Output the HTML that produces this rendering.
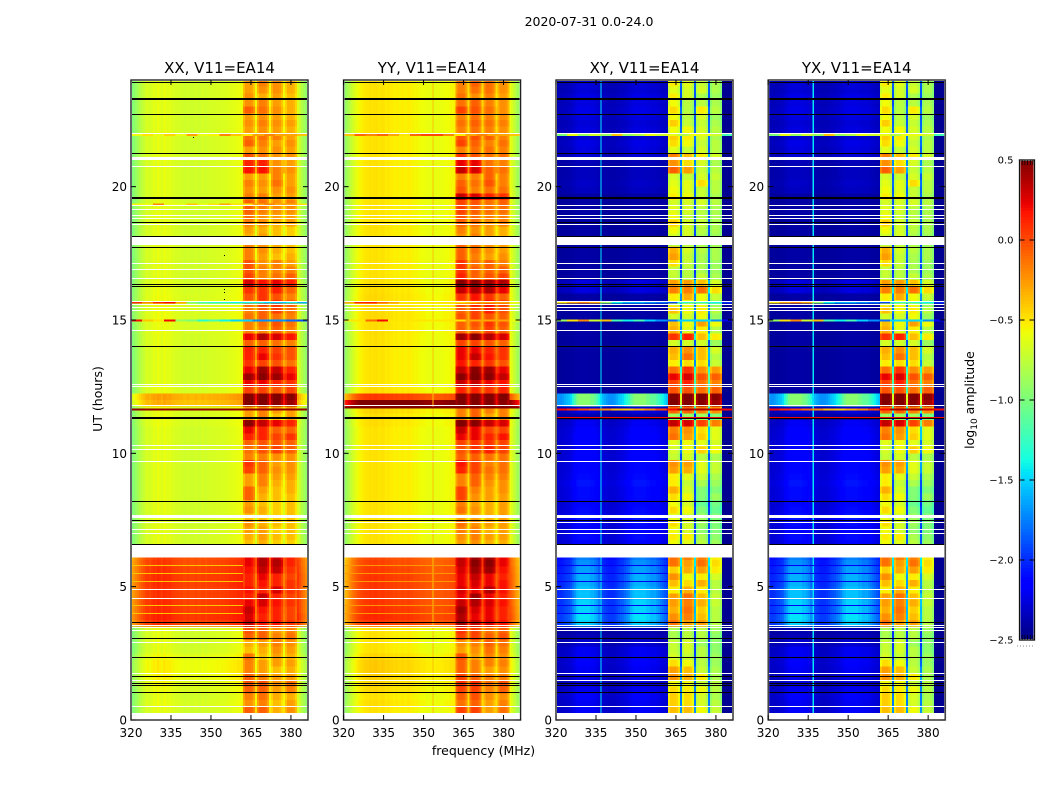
<!DOCTYPE html>
<html lang="en">
<head>
<meta charset="utf-8">
<title>2020-07-31 0.0-24.0</title>
<style>
html,body{margin:0;padding:0;background:#fff;}
svg{display:block;font-family:"DejaVu Sans","Liberation Sans",sans-serif;fill:#000;}
</style>
</head>
<body>
<svg id="chart" width="1050" height="800" viewBox="0 0 1050 800" xmlns="http://www.w3.org/2000/svg">
  <rect x="0" y="0" width="1050" height="800" fill="#fff"/>
  <text x="589" y="26" font-size="12.5" text-anchor="middle">2020-07-31 0.0-24.0</text>
  <text transform="translate(102 399) rotate(-90)" font-size="12.5" text-anchor="middle">UT (hours)</text>
  <text x="483.500" y="755" font-size="12.5" text-anchor="middle">frequency (MHz)</text>
  <text transform="translate(974 400) rotate(-90)" font-size="12.5" text-anchor="middle">log<tspan font-size="9" dy="3">10</tspan><tspan dy="-3"> amplitude</tspan></text>
  <g id="panels"></g>
  <g id="colorbar"></g>
</svg>
<script>
// ---- axis data ----
const freqTicks = [320, 335, 350, 365, 380];
const hourTicks = [0, 5, 10, 15, 20];
const colorTicks = [-2.5, -2.0, -1.5, -1.0, -0.5, 0.0, 0.5];
const panelTitles = ['XX, V11=EA14', 'YY, V11=EA14', 'XY, V11=EA14', 'YX, V11=EA14'];

// log10 amplitude baseline per channel (0.75 MHz channels from 320 MHz)
const profileXX = [-1,-.95,-.9,-.85,-.8,-.76,-.72,-.68,-.66,-.68,-.65,-.62,-.64,-.6,-.62,-.65,-.6,-.62,-.63,-.62,-.65,-.66,-.67,-.67,-.68,-.68,-.7,-.7,-.68,-.7,-.7,-.7,-.68,-.7,-.7,-.68,-.68,-.7,-.68,-.67,-.68,-.67,-.67,-.66,-.67,-.66,-.66,-.65,-.65,-.63,-.63,-.62,-.62,-.6,-.6,-.58,-.6,-.6,-.6,-.6,-.6,-.6,-.6,-.6,-.6,-.6,-.6,-.6,-.6,-.6,-.6,-.6,-.6,-.6,-.6,-.6,-.6,-.6,-.6,-.6,-.6,-.6,-.6,-.65,-.72,-.8,-.85,-.92,-.98];
const profileYY = [-.94,-.88,-.82,-.76,-.7,-.65,-.61,-.57,-.55,-.53,-.51,-.5,-.5,-.48,-.5,-.48,-.48,-.5,-.5,-.48,-.5,-.52,-.5,-.52,-.52,-.54,-.52,-.54,-.54,-.52,-.54,-.54,-.52,-.54,-.54,-.56,-.56,-.56,-.58,-.58,-.58,-.6,-.6,-.6,-.62,-.62,-.6,-.6,-.6,-.6,-.58,-.58,-.58,-.56,-.56,-.54,-.5,-.5,-.5,-.5,-.5,-.5,-.5,-.5,-.5,-.5,-.5,-.5,-.5,-.5,-.5,-.5,-.5,-.5,-.5,-.5,-.5,-.5,-.5,-.5,-.5,-.5,-.5,-.6,-.67,-.74,-.82,-.88,-.96];
// shape of the cross-hand low-band lobes, per channel
const lobeXY = [.5,.5,.5,.52,.55,.58,.6,.65,.75,.85,.95,1,1,1,1,1,1,.95,.95,.9,.85,.75,.65,.58,.55,.52,.5,.5,.5,.52,.55,.6,.62,.65,.7,.75,.8,.9,.95,1,1,1,1,1,1,.95,.95,.9,.9,.9,.85,.8,.75,.7,.65,.6,.6,.6,.6,.6,.6,.6,.6,.6,.6,.6,.6,.6,.6,.6,.6,.6,.6,.6,.6,.6,.6,.6,.6,.6,.6,.6,.6,0,0,0,0,0,0];
// channel to occupied block (-1 = open band, 4 = gap between blocks)
const channelBlock = [-1,-1,-1,-1,-1,-1,-1,-1,-1,-1,-1,-1,-1,-1,-1,-1,-1,-1,-1,-1,-1,-1,-1,-1,-1,-1,-1,-1,-1,-1,-1,-1,-1,-1,-1,-1,-1,-1,-1,-1,-1,-1,-1,-1,-1,-1,-1,-1,-1,-1,-1,-1,-1,-1,-1,-1,0,0,0,0,0,0,4,1,1,1,1,1,1,4,2,2,2,2,2,2,4,3,3,3,3,3,3,-1,-1,-1,-1,-1,-1];
const blockTaper = [-.08,.03,.03,.03,0,-.1,0,-.08,.03,.03,.03,0,-.1,0,-.08,.03,.03,.03,0,-.1,0,-.08,.03,.03,.03,0,-.1];

// low-band level per 0.25 h row
const lowXX = [0,0,.02,0,.03,.05,.08,.1,.1,.05,0,0,0,0,.7,.75,.72,.72,.7,.7,.72,.72,.7,.68,.66,0,0,0,0,0,0,0,0,0,0,0,0,0,0,0,0,0,0,0,.02,.02,.02,.3,.35,.02,0,0,0,0,0,0,.01,.01,.02,.02,.03,.03,.03,.03,.02,.01,0,0,0,0,0,0,0,0,0,0,0,0,0,0,0,0,0,0,0,0,0,0,0,0,0,0,0,0,0,0];
const lowYY = [0,0,.02,0,.03,.04,.06,.08,.08,.04,0,0,0,0,.55,.6,.58,.56,.55,.55,.56,.56,.54,.52,.5,0,0,0,0,0,0,0,0,0,0,0,0,0,0,0,0,0,0,0,.02,.02,.05,1.05,.55,.02,0,0,0,0,0,0,.01,.01,.02,.02,.03,.03,.03,.03,.02,.01,0,0,0,0,0,0,0,0,0,0,0,0,0,0,0,0,0,0,0,0,0,0,0,0,0,0,0,0,0,0];
const lowXY = [.28,.28,.26,.28,.24,.2,.22,.26,.28,.26,.25,.16,.1,.08,.95,1,.95,.95,.9,.9,.85,.85,.8,.75,.7,.33,.33,.35,.33,.35,.38,.35,.33,.35,.35,.38,.35,.33,.33,.32,.3,.32,.32,.3,.26,.08,.2,1.5,1.5,.05,.05,.05,.05,.05,.05,.05,.05,.05,.05,.05,.05,.05,.05,.05,.2,.2,.05,.05,.05,.05,.05,.05,.05,.05,.05,.05,.05,.05,.05,.12,.14,.12,.12,.1,.18,.2,.22,.18,.2,.18,.2,.22,.2,.22,.18,.18];

// level of each occupied block [b1,b2,b3,b4] per 0.25 h row
const blocksXX = [
[-.3,-.3,-.4,-.3],[-.1,-.1,-.35,-.25],[-.25,-.2,-.4,-.3],[-.2,-.15,-.35,-.35],[-.1,-.1,-.3,-.2],[-.05,-.05,-.25,-.15],[-.1,-.2,-.3,-.3],[-.2,-.3,-.4,-.35],
[-.2,-.3,-.3,-.3],[-.15,-.4,-.3,-.35],[-.4,-.35,-.25,-.3],[-.35,-.3,-.2,-.25],[-.1,-.1,-.2,-.15],[-.05,-.1,-.25,-.2],[.3,.15,.15,.05],[.25,.1,.1,0],
[.3,.15,.1,0],[.2,.25,.15,.05],[.1,.3,.1,0],[.15,.1,.25,.05],[.1,.15,.1,.05],[.1,.2,.1,0],[.15,.3,.3,.05],[.2,.35,.35,.1],
[.2,.35,.3,.1],[-.4,-.35,-.45,-.45],[-.4,-.35,-.45,-.45],[-.35,-.3,-.4,-.4],[-.3,-.3,-.45,-.4],[-.25,-.35,-.4,-.4],[-.4,-.4,-.45,-.4],[-.25,-.35,-.45,-.4],
[-.3,-.4,-.45,-.4],[-.1,-.35,-.4,-.4],[-.1,-.3,-.4,-.35],[-.3,-.2,-.35,-.35],[-.3,-.2,-.3,-.3],[0,-.1,-.25,-.25],[.05,-.1,-.3,-.25],[-.2,-.2,-.25,-.25],
[-.15,-.05,0,-.1],[-.1,-.05,-.05,-.1],[.1,.1,0,.05],[.2,.1,-.1,-.1],[.45,.3,.2,.1],[-.3,-.2,-.4,-.3],[-.3,-.2,-.3,-.3],[.5,.5,.45,.4],
[.5,.5,.5,.45],[0,0,-.05,0],[.2,.2,.1,.05],[.4,.45,.4,.2],[.2,.4,.3,.1],[.05,0,-.05,-.15],[.1,.2,.05,-.05],[.1,.1,0,-.05],
[-.1,-.1,-.15,-.2],[.2,.35,.25,.15],[-.2,-.2,-.1,-.2],[-.2,-.15,-.05,-.15],[-.15,-.1,-.15,-.2],[-.2,-.1,0,-.15],[-.15,0,.05,-.1],[-.05,.05,-.05,-.2],
[.05,.05,.1,-.1],[.25,.15,.2,.1],[0,-.2,-.15,-.1],[-.05,-.2,-.2,-.2],[-.05,-.25,-.2,-.3],[-.2,-.3,-.4,-.35],[-.2,-.25,-.35,-.4],[-.2,-.25,-.35,-.4],
[-.35,-.3,-.4,-.45],[-.3,-.35,-.4,-.45],[-.2,-.25,-.35,-.3],[-.15,-.25,-.3,-.3],[-.1,-.2,-.25,-.25],[-.1,-.15,-.25,-.2],[-.2,-.2,-.3,-.3],[-.25,-.3,-.25,-.25],
[-.2,-.25,-.15,-.3],[-.3,-.3,-.2,-.3],[.15,.15,-.2,-.25],[.1,.1,-.25,-.3],[-.05,-.15,-.25,-.25],[-.3,-.25,-.25,-.3],[-.1,-.2,-.3,-.25],[-.15,-.15,-.2,-.3],
[-.3,-.25,-.3,-.35],[-.25,-.2,-.25,-.3],[-.3,-.25,-.3,-.35],[-.1,-.15,-.25,-.35],[-.25,-.2,-.3,-.35],[-.25,-.35,-.3,-.4],[-.3,-.25,-.25,-.35],[-.3,-.2,-.25,-.35]];
const blocksYY = [
[-.2,-.2,-.3,-.25],[0,0,-.3,-.15],[-.15,-.1,-.3,-.2],[-.1,-.05,-.25,-.25],[0,0,-.2,-.1],[.05,.05,-.15,-.05],[0,-.1,-.2,-.2],[-.1,-.2,-.3,-.25],
[-.1,-.2,-.2,-.2],[-.05,-.3,-.2,-.25],[-.3,-.25,-.15,-.2],[-.25,-.2,-.1,-.15],[0,0,-.1,-.05],[.05,0,-.15,-.1],[.4,.3,.25,.15],[.35,.2,.2,.1],
[.4,.25,.2,.1],[.3,.35,.25,.15],[.2,.4,.2,.1],[.25,.2,.35,.15],[.2,.25,.2,.15],[.2,.3,.2,.1],[.25,.4,.4,.15],[.3,.45,.45,.2],
[.3,.4,.4,.2],[-.3,-.25,-.35,-.35],[-.3,-.25,-.35,-.35],[-.25,-.2,-.3,-.3],[-.2,-.2,-.35,-.3],[-.15,-.25,-.3,-.3],[-.3,-.3,-.35,-.3],[-.15,-.25,-.35,-.3],
[-.2,-.3,-.35,-.3],[0,-.25,-.3,-.3],[0,-.2,-.3,-.25],[-.2,-.1,-.25,-.25],[-.2,-.1,-.2,-.2],[.1,0,-.15,-.15],[.15,0,-.2,-.15],[-.1,-.1,-.15,-.15],
[-.05,.05,.1,0],[0,.05,.05,0],[.2,.2,.1,.15],[.3,.2,0,0],[.5,.45,.3,.25],[-.2,-.1,-.3,-.2],[-.2,-.1,-.2,-.2],[.5,.5,.5,.45],
[.5,.5,.5,.5],[.1,.1,.05,.1],[.3,.3,.2,.15],[.45,.5,.45,.3],[.3,.45,.4,.2],[.15,.1,.05,-.05],[.2,.3,.15,.05],[.2,.2,.1,.05],
[0,0,-.05,-.1],[.4,.45,.35,.25],[-.1,-.1,0,-.1],[-.1,-.05,.05,-.05],[-.05,0,-.05,-.1],[-.1,0,.1,-.05],[-.05,.1,.15,0],[.05,.15,.05,-.1],
[.3,.35,.35,.2],[.45,.45,.4,.35],[.1,-.1,-.05,0],[.05,-.1,-.1,-.1],[.05,-.15,-.1,-.2],[-.1,-.2,-.3,-.25],[-.1,-.15,-.25,-.3],[-.1,-.15,-.25,-.3],
[-.25,-.2,-.3,-.35],[-.2,-.25,-.3,-.35],[-.1,-.15,-.25,-.2],[-.05,-.15,-.2,-.2],[0,-.1,-.15,-.15],[0,-.05,-.15,-.1],[.3,.25,.1,.05],[-.05,-.2,-.15,-.15],
[-.1,-.15,-.05,-.2],[-.2,-.2,-.1,-.2],[.3,.25,-.1,-.15],[.2,.2,-.15,-.2],[.05,-.05,-.15,-.15],[-.2,-.15,-.15,-.2],[0,-.1,-.2,-.15],[-.05,-.05,-.1,-.2],
[-.2,-.15,-.2,-.25],[-.15,-.1,-.15,-.2],[-.2,-.15,-.2,-.25],[0,-.05,-.15,-.25],[-.15,-.1,-.2,-.25],[-.15,-.25,-.2,-.3],[-.2,-.15,-.15,-.25],[-.2,-.1,-.15,-.25]];
const blocksXY = [
[-.6,-.65,-.7,-.8],[-.4,-.4,-.6,-.75],[-.45,-.5,-.7,-.8],[-.45,-.5,-.7,-.85],[-.5,-.55,-.6,-.8],[-.6,-.6,-.75,-.8],[-.25,-.35,-.55,-.85],[-.3,-.4,-.75,-.85],
[-.5,-.6,-.8,-.9],[-.7,-.75,-.8,-.9],[-.75,-.7,-.8,-.95],[-.75,-.7,-.9,-.95],[-.85,-.8,-.8,-.95],[-.85,-.8,-.8,-.9],[-.15,-.3,-.3,-.8],[-.25,-.2,-.4,-.8],
[-.35,-.15,-.45,-.8],[-.3,-.2,-.35,-.75],[-.3,-.15,-.4,-.75],[-.55,-.35,-.55,-.8],[-.4,-.5,-.35,-.8],[-.25,-.6,-.55,-.7],[-.45,-.35,-.3,-.55],[-.15,-.3,-.15,-.5],
[-.15,-.2,-.2,-.55],[-.7,-.7,-.8,-.85],[-.6,-.65,-.8,-.9],[-.55,-.55,-.85,-.95],[-.6,-.7,-.95,-1],[-.5,-.7,-.9,-1],[-.65,-.7,-.9,-1],[-.5,-.6,-1,-1.1],
[-.6,-.7,-1.1,-1.05],[-.5,-.6,-1,-.9],[-.35,-.7,-1,-1],[-.55,-.75,-.85,-.9],[-.55,-.65,-.75,-.85],[-.3,-.35,-.65,-.75],[-.25,-.3,-.65,-.75],[-.75,-.7,-.8,-.85],
[-.7,-.6,-.45,-.6],[-.65,-.6,-.65,-.7],[-.15,-.3,-.45,-.65],[-.2,-.25,-.5,-.65],[.3,.25,0,-.2],[-.9,-.9,-.9,-1],[-.1,-.1,-.2,-.25],[.5,.5,.45,.4],
[.5,.5,.5,.45],[-.05,-.05,-.15,-.1],[0,.1,-.15,-.2],[.2,.25,-.05,-.1],[-.15,.05,-.25,-.3],[-.55,-.5,-.5,-.75],[-.4,-.15,-.4,-.8],[-.35,-.25,-.4,-.7],
[-.7,-.7,-.7,-.9],[.05,.1,-.4,-.55],[-.35,-.65,-.55,-.8],[-.4,-.6,-.3,-.6],[-.7,-.7,-.6,-.9],[-.4,-.6,-.55,-.8],[-.6,-.6,-.6,-.9],[-.55,-.35,-.6,-.75],
[-.2,-.2,-.15,-.5],[-.3,-.3,-.4,-.7],[-.75,-.8,-.75,-.85],[-.75,-.8,-.85,-.9],[-.5,-.75,-.85,-.9],[-.3,-.75,-.85,-.85],[-.35,-.7,-.8,-.85],[-.8,-.8,-.85,-.9],
[-.7,-.7,-.85,-.9],[-.6,-.7,-.8,-.85],[-.45,-.7,-.75,-.85],[-.6,-.75,-.8,-.85],[-.65,-.7,-.8,-.85],[-.7,-.7,-.7,-.8],[-.55,-.6,-.75,-.85],[-.6,-.65,-.75,-.8],
[-.65,-.65,-.5,-.8],[-.7,-.75,-.7,-.75],[-.1,-.3,-.75,-.8],[-.25,-.5,-.7,-.85],[-.2,-.4,-.55,-.7],[-.65,-.75,-.7,-.8],[-.5,-.6,-.75,-.8],[-.45,-.55,-.7,-.85],
[-.6,-.6,-.7,-.8],[-.45,-.75,-.75,-.85],[-.6,-.8,-.7,-.9],[-.5,-.8,-.55,-.8],[-.6,-.8,-.8,-.85],[-.55,-.7,-.85,-.9],[-.65,-.7,-.7,-.85],[-.55,-.65,-.75,-.85]];

// flagged times (hours)
const blackHours = [23.9,23.29,22.71,21.25,19.59,18.66,18.14,17.73,16.34,16.26,14.01,11.31,8.2,7.49,6.6,3.66,3.06,2.35,1.62,1.38,1.3,1.04];
const thickBlackHours = [23.29,19.59,11.31];
const whiteHours = [22,21.05,20.74,19.28,19.16,18.91,18.81,18.6,17.13,16.9,16.56,15.7,15.57,15.48,15.36,14.61,12.59,12.51,11.8,10.28,10.15,9.68,7.62,7.4,7.15,7,4.89,4.56,3.55,3.46,3.36,2.92,1.73,1.5,.49];
const thickWhiteHours = [21.05,7.62];
const blankStartHours = [0, 6.1, 17.81];
const blankEndHours = [.27, 6.6, 18.13];
const dipHours = [5.8,5.5,5.2,4.3,4];
const dipLevels = [-.4,-.25,-2.2,-2.2];
const spurFreqs = [null, 353.3, 336.7, 336.7];
const spurLevels = [null, -.38, -1.45, -1.45];

// narrow-band/time spikes: 16 frequency segments per spike hour
const spikeHours = [21.93,19.33,15.66,14.99,11.72,11.64];
const spikesXX = [
[-.6,-.5,-.6,-.45,-.6,-.3,-.6,-.55,-.2,-.4,-.5,-.3,-.2,-.3,-.3,-.4],
[-.55,-.6,-.2,-.6,-.6,-.4,-.6,-.5,-.3,-.5,-.5,-.3,-.2,-.3,-.3,-.5],
[.1,-.2,.1,.2,-.3,-1,-1.2,-1.3,-1.3,-1.4,-1.4,-1.4,-1.5,-1.5,-1.4,-1.6],
[.2,-.4,-.5,.2,-.9,-1,-1.3,-1.2,-1.4,-1.5,-1.5,-1.7,-1.7,-1.7,-1.8,-1.9],
null,
[.45,.45,.45,.45,.45,.45,.45,.45,.45,.45,.45,.45,.45,.45,.45,.45]];
const spikesYY = [
[-.4,-.1,-.2,-.1,-.3,-.5,-.1,0,0,-.2,-.5,-.3,-.2,-.3,-.3,-.4],
null,
[-.3,.1,.15,-.1,-.3,-.5,-.5,-.5,-.5,-.5,-.5,-.4,-.3,-.3,-.3,-.6],
[-.5,-.5,-.1,.2,-.5,-.5,-.5,-.5,-.5,-.5,-.5,-.3,-.3,-.3,-.3,-.6],
[.5,.5,.5,.5,.5,.5,.5,.5,.5,.5,.5,.5,.5,.5,.5,.5],
null];
const spikesXY = [
[-1,-.6,-.9,-.7,-.9,-.4,-.9,-.8,-.6,-.7,-.6,-.8,-.6,-.6,-.7,-1.2],
null,
[-.5,-.3,-.2,-.3,-.9,-1.4,-1.6,-1.6,-1.7,-1.8,-1.9,-1.3,-1.2,-1.3,-1.4,-2],
[-.9,-.5,-.2,-.7,-.4,-1.2,-1.4,-1.2,-1.5,-1.7,-1.8,-1.5,-1.5,-1.5,-1.7,-2.2],
null,
[.2,.1,0,-.1,-.2,-.35,-.4,-.3,-.2,0,.2,.4,.4,.4,.3,.2]];
const crossLineHour = [11.31];
const crossLineLevel = [.2];
const speckFreqs = [354.9,354.9,354.9,354.9,343.3];
const speckHours = [17.44,16.16,16.05,15.79,21.86];

// ---- scales ----
const NS = 'http://www.w3.org/2000/svg';
const plotTop = 80, plotBottom = 720, plotWidth = 177;
const panelLefts = [131, 343.6, 556, 768.2];
const freqMin = 320, freqMax = 386.4, channelStep = .75, rowStep = .25, hourMax = 24;
const yOf = h => plotBottom - h * (plotBottom - plotTop) / hourMax;
const xOf = (f, left) => left + (f - freqMin) * plotWidth / (freqMax - freqMin);
const clamp = (a, lo, hi) => Math.max(lo, Math.min(hi, a));
function seg(n, pts) {
  for (let i = 1; i < pts.length; i++) {
    if (n <= pts[i][0]) {
      const a = pts[i - 1], b = pts[i];
      return a[1] + (b[1] - a[1]) * (n - a[0]) / (b[0] - a[0]);
    }
  }
  return pts[pts.length - 1][1];
}
function jet(v) {
  const n = clamp((v + 2.5) / 3, 0, 1);
  const r = seg(n, [[0,0],[.35,0],[.66,1],[.89,1],[1,.5]]);
  const g = seg(n, [[0,0],[.125,0],[.375,1],[.64,1],[.91,0],[1,0]]);
  const b = seg(n, [[0,.5],[.11,1],[.34,1],[.65,0],[1,0]]);
  return 'rgb(' + Math.round(r * 255) + ',' + Math.round(g * 255) + ',' + Math.round(b * 255) + ')';
}
function rect(parent, x, y, w, h, fill) {
  const el = document.createElementNS(NS, 'rect');
  el.setAttribute('x', x);
  el.setAttribute('y', y);
  el.setAttribute('width', w);
  el.setAttribute('height', h);
  el.setAttribute('fill', fill);
  parent.appendChild(el);
  return el;
}
function line(parent, x1, y1, x2, y2, stroke, width) {
  const el = document.createElementNS(NS, 'line');
  el.setAttribute('x1', x1);
  el.setAttribute('y1', y1);
  el.setAttribute('x2', x2);
  el.setAttribute('y2', y2);
  el.setAttribute('stroke', stroke);
  el.setAttribute('stroke-width', width);
  parent.appendChild(el);
  return el;
}
function label(parent, x, y, str, size, anchor) {
  const el = document.createElementNS(NS, 'text');
  el.setAttribute('x', x);
  el.setAttribute('y', y);
  el.setAttribute('font-size', size);
  el.setAttribute('text-anchor', anchor);
  el.textContent = str;
  parent.appendChild(el);
  return el;
}
const fmtTick = v => v.toFixed(1).replace('-', '\u2212');

// value of one heatmap cell
function cellValue(p, r, c) {
  const block = channelBlock[c];
  const cross = p >= 2;
  const blocks = p === 0 ? blocksXX : p === 1 ? blocksYY : blocksXY;
  if (block === 4) {
    const row = blocks[r];
    const mean = (row[0] + row[1] + row[2] + row[3]) / 4;
    return mean - (cross ? 1.15 : .28);
  }
  if (block >= 0) return blocks[r][block] + blockTaper[c - 56];
  if (cross) return -2.5 + .05 + lowXY[r] * lobeXY[c];
  return p === 0 ? profileXX[c] + lowXX[r] : profileYY[c] + lowYY[r];
}

// ---- build panels ----
const panelsRoot = document.getElementById('panels');
const svgRoot = document.getElementById('chart');
const defs = document.createElementNS(NS, 'defs');
svgRoot.insertBefore(defs, svgRoot.firstChild);
const nChannels = channelBlock.length, nRows = blocksXX.length;

panelTitles.forEach((title, p) => {
  const left = panelLefts[p];
  const g = document.createElementNS(NS, 'g');
  
  
  panelsRoot.appendChild(g);

  const clip = document.createElementNS(NS, 'clipPath');
  clip.setAttribute('id', 'clip' + p);
  rect(clip, left, plotTop, plotWidth, plotBottom - plotTop, '#000');
  defs.appendChild(clip);

  const map = document.createElementNS(NS, 'g');
  map.setAttribute('clip-path', 'url(#clip' + p + ')');
  map.setAttribute('shape-rendering', 'crispEdges');
  
  
  g.appendChild(map);

  // heatmap cells
  for (let r = 0; r < nRows; r++) {
    const y0 = yOf((r + 1) * rowStep), y1 = yOf(r * rowStep);
    for (let c = 0; c < nChannels; c++) {
      const f0 = freqMin + c * channelStep;
      const x0 = xOf(f0, left), x1 = xOf(f0 + channelStep, left);
      const cell = rect(map, x0, y0, x1 - x0, y1 - y0, jet(cellValue(p, r, c)));
      
      
    }
  }

  // continuous narrow-band spur
  if (spurFreqs[p] !== null) {
    const sx = xOf(spurFreqs[p], left);
    const spur = rect(map, sx, plotTop, 1.2, plotBottom - plotTop, jet(spurLevels[p]));
    
    
  }

  // low-level dips
  dipHours.forEach(h => {
    const dip = rect(map, left, yOf(h) - .5, xOf(362, left) - left, 1, jet(dipLevels[p]));
    
    
  });

  // spikes
  const spikes = p === 0 ? spikesXX : p === 1 ? spikesYY : spikesXY;
  spikeHours.forEach((h, i) => {
    const vals = spikes[i];
    if (!vals) return;
    const stepF = (freqMax - freqMin) / vals.length;
    vals.forEach((v, k) => {
      const xa = xOf(freqMin + k * stepF, left), xb = xOf(freqMin + (k + 1) * stepF, left);
      const sp = rect(map, xa, yOf(h) - 1, xb - xa, 2, jet(v));
      
      
    });
  });

  // specks (XX only)
  if (p === 0) {
    speckFreqs.forEach((f, i) => {
      const sp = rect(map, xOf(f, left), yOf(speckHours[i]), 1, 1, '#000');
      
      
    });
  }

  // blanked time ranges
  blankStartHours.forEach((h, i) => {
    const b = rect(map, left, yOf(blankEndHours[i]), plotWidth, yOf(h) - yOf(blankEndHours[i]), '#fff');
    
    
  });
  whiteHours.forEach(h => {
    const t = thickWhiteHours.includes(h) ? 3 : 1;
    const w = rect(map, left, Math.round(yOf(h) - t / 2), plotWidth, t, '#fff');
    
    
  });
  blackHours.forEach(h => {
    const t = thickBlackHours.includes(h) ? 2 : 1;
    const k = rect(map, left, Math.round(yOf(h) - t / 2), plotWidth, t, '#000');
    
    
  });
  if (p >= 2) {
    crossLineHour.forEach((h, i) => {
      const k = rect(map, left, Math.round(yOf(h) - 1), plotWidth, 1, jet(crossLineLevel[i]));
      
      
    });
  }

  // frame
  const halo = document.createElementNS(NS, 'rect');
  halo.setAttribute('x', left);
  halo.setAttribute('y', plotTop);
  halo.setAttribute('width', plotWidth);
  halo.setAttribute('height', plotBottom - plotTop);
  halo.setAttribute('fill', 'none');
  halo.setAttribute('stroke', '#bdbdbd');
  halo.setAttribute('stroke-width', '2');
  
  
  g.appendChild(halo);
  const frame = document.createElementNS(NS, 'rect');
  frame.setAttribute('x', left);
  frame.setAttribute('y', plotTop);
  frame.setAttribute('width', plotWidth);
  frame.setAttribute('height', plotBottom - plotTop);
  frame.setAttribute('fill', 'none');
  frame.setAttribute('stroke', '#111');
  frame.setAttribute('stroke-width', '1');
  
  
  g.appendChild(frame);

  // ticks + labels
  freqTicks.forEach(f => {
    const x = xOf(f, left);
    const t1 = line(g, x, plotBottom, x, plotBottom - 5, '#000', 1);
    
    
    const t2 = line(g, x, plotTop, x, plotTop + 5, '#000', 1);
    
    
    const lab = label(g, x, 737, String(f), 12, 'middle');
    
    
  });
  hourTicks.forEach(h => {
    const y = yOf(h);
    const t1 = line(g, left, y, left + 5, y, '#000', 1);
    
    
    const t2 = line(g, left + plotWidth, y, left + plotWidth - 5, y, '#000', 1);
    
    
    const lab = label(g, left - 4, y + 4.5, String(h), 12, 'end');
    
    
  });
  const tt = label(g, left + plotWidth / 2, 73, title, 15, 'middle');
  
  
});

// ---- colorbar ----
const cbRoot = document.getElementById('colorbar');
const cbLeft = 1019.5, cbWidth = 15, cbTop = 160, cbBottom = 640;
const cbMin = colorTicks[0], cbMax = colorTicks[colorTicks.length - 1];
const cbY = v => cbBottom - (v - cbMin) * (cbBottom - cbTop) / (cbMax - cbMin);
const cbSteps = 160;
for (let i = 0; i < cbSteps; i++) {
  const v0 = cbMin + (cbMax - cbMin) * i / cbSteps;
  const v1 = cbMin + (cbMax - cbMin) * (i + 1) / cbSteps;
  const s = rect(cbRoot, cbLeft, cbY(v1), cbWidth, cbY(v0) - cbY(v1), jet((v0 + v1) / 2));
  s.setAttribute('shape-rendering', 'crispEdges');
  
  
}
const cbHalo = rect(cbRoot, cbLeft, cbTop, cbWidth, cbBottom - cbTop, 'none');
cbHalo.setAttribute('stroke', '#bdbdbd');
cbHalo.setAttribute('stroke-width', '2');


const cbFrame = rect(cbRoot, cbLeft, cbTop, cbWidth, cbBottom - cbTop, 'none');
cbFrame.setAttribute('stroke', '#111');
cbFrame.setAttribute('stroke-width', '1');


colorTicks.forEach(v => {
  const y = cbY(v);
  const t1 = line(cbRoot, cbLeft, y, cbLeft + 5, y, '#000', 1);
  
  
  const t2 = line(cbRoot, cbLeft + cbWidth, y, cbLeft + cbWidth - 5, y, '#000', 1);
  
  
  const lab = label(cbRoot, cbLeft - 6, y + 3.5, fmtTick(v), 10, 'end');
  
  
});
[2.7, 5.4, 8.1, 10.8, 13.5].forEach(dx => {
  const a = line(cbRoot, cbLeft + dx, cbTop, cbLeft + dx, cbTop + 5, '#000', .7);
  
  
  const b = line(cbRoot, cbLeft + dx, cbBottom, cbLeft + dx, cbBottom - 5, '#000', .7);
  
  
});
const dots = line(cbRoot, 1017, 646, 1035, 646, '#888', 1);
dots.setAttribute('stroke-dasharray', '1 2');


</script>
</body>
</html>
